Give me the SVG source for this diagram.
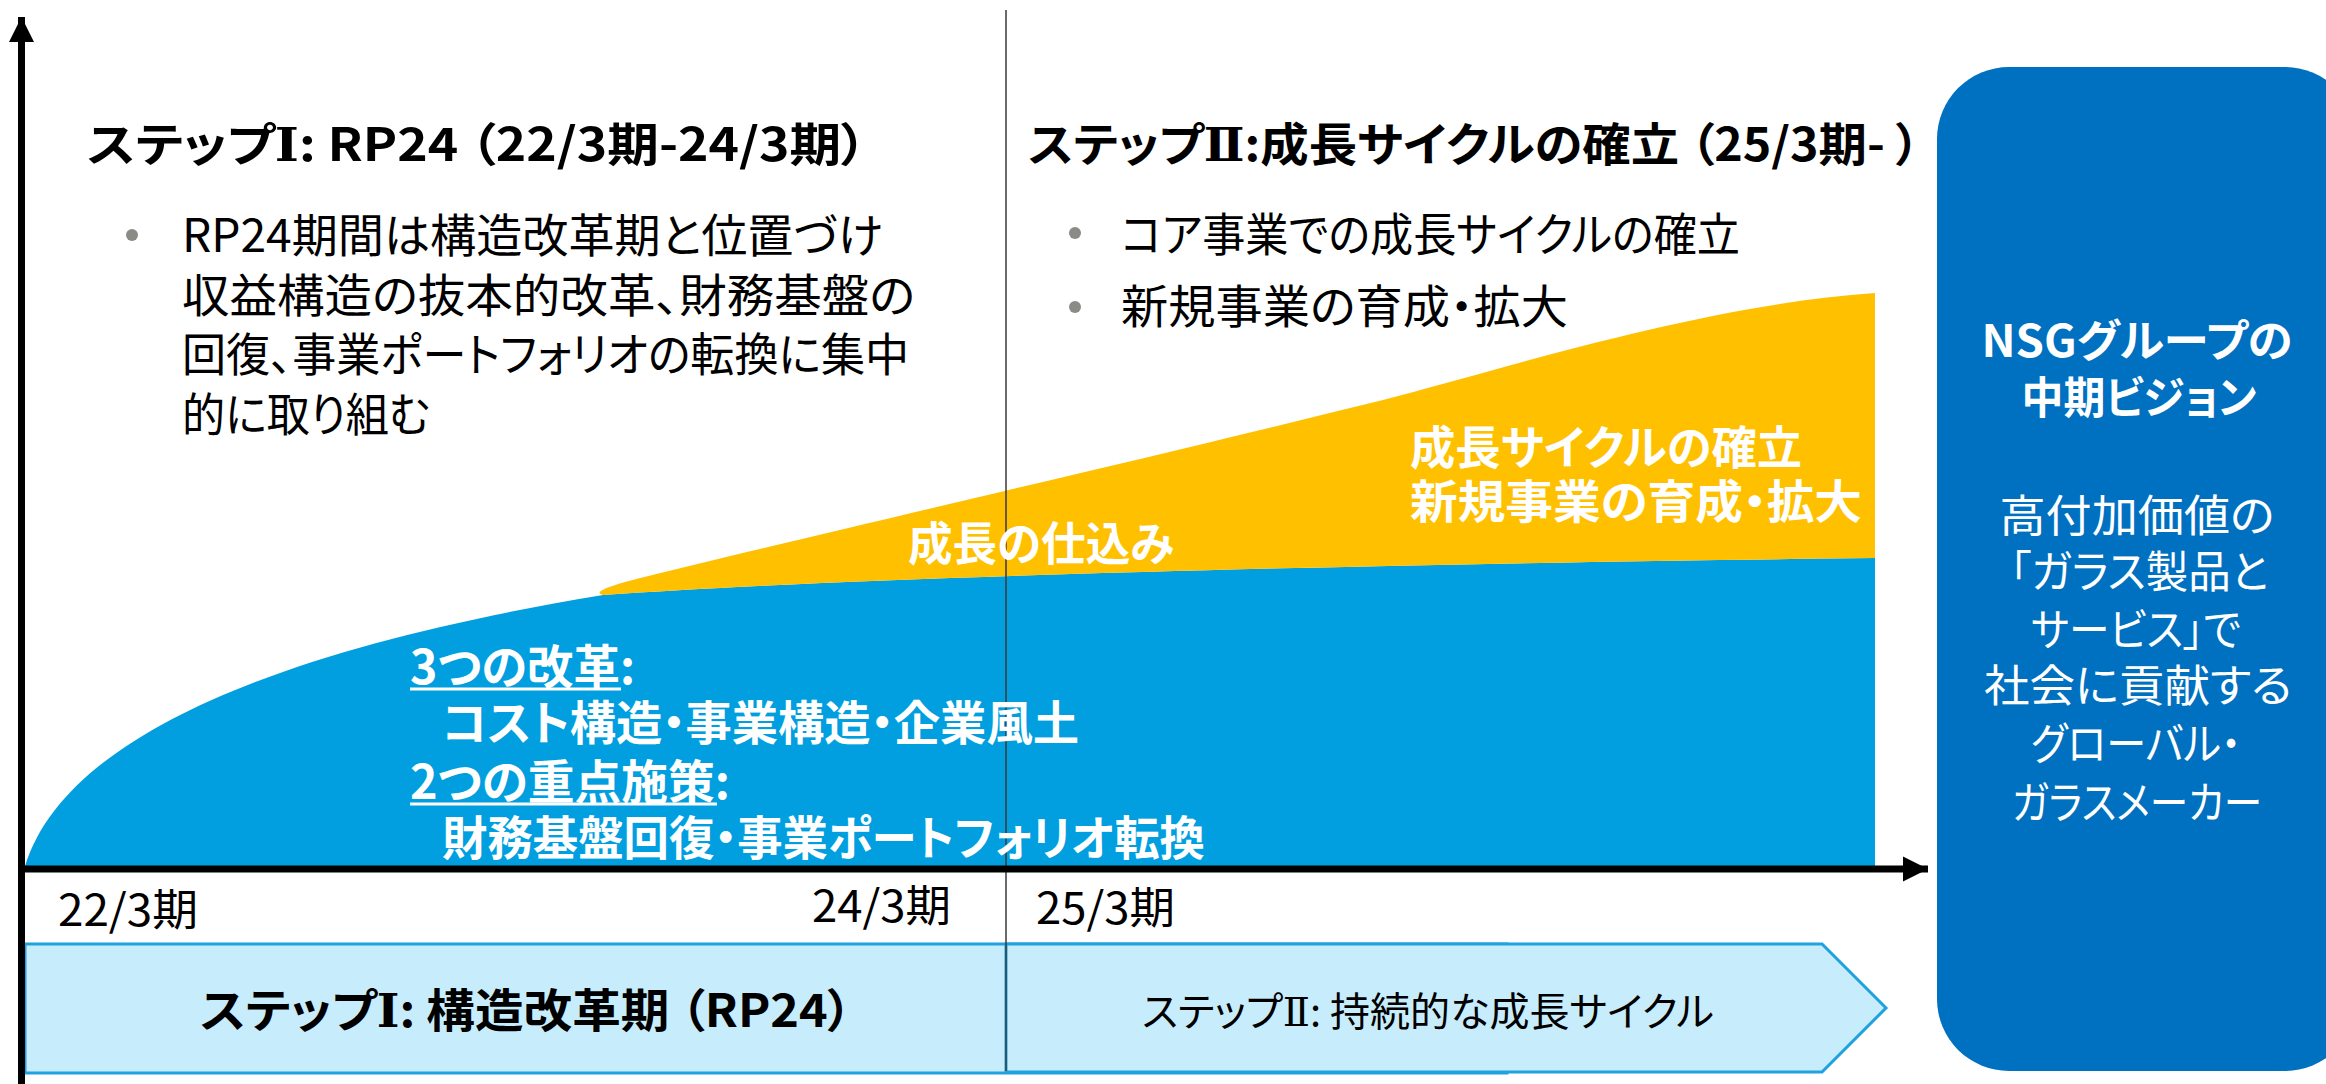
<svg xmlns="http://www.w3.org/2000/svg" width="2326" height="1084" viewBox="0 0 2326 1084">
<style>
text{font-family:"Noto Sans CJK JP","Noto Sans",sans-serif;font-feature-settings:"palt" 1;}
.rn{font-family:"DejaVu Serif","DejaVu Sans",serif;}
.b{font-weight:700;}
.r{font-weight:400;}
.blk{fill:#000;}
.wht{fill:#fff;}
.dot{fill:#8a8a86;}
.band{fill:#c7edfc;stroke:#1fa2de;stroke-width:3;}
</style>
<defs>
<marker id="ah" viewBox="0 0 10 10" refX="10" refY="5" markerWidth="3.6" markerHeight="3.6" orient="auto" markerUnits="strokeWidth">
<path d="M0,0 L10,5 L0,10 Z" fill="#000"/>
</marker>
</defs>
<rect width="2326" height="1084" fill="#fff"/>

<g id="chart-areas">
<path id="area-blue" d="M25,866 C70,720 330,640 603,595 C900,574 1500,562 1875,558 L1875,866 Z" fill="#019fdf"/>
<path id="area-yellow" d="M603,595 C900,574 1500,562 1875,558 L1875,293 C1700,305 1500,370 1383,400 C1100,470 800,538 625,582 Q590,592 603,595 Z" fill="#ffc000"/>
</g>

<g id="step-band">
<rect id="band-step1" class="band" x="25" y="944" width="1482" height="129"/>
<path id="band-step2" class="band" d="M1006,944 L1822,944 L1886,1008 L1822,1072 L1006,1072 Z"/>
</g>

<g id="vision-box">
<rect x="1937" y="67" width="420" height="1004" rx="72" ry="72" fill="#0070c0"/>
<text class="b wht" x="2137" y="357" font-size="44" text-anchor="middle" textLength="311" lengthAdjust="spacingAndGlyphs">NSGグループの</text>
<text class="b wht" x="2139" y="414" font-size="44" text-anchor="middle" textLength="235" lengthAdjust="spacingAndGlyphs">中期ビジョン</text>
<text class="r wht" x="2137" y="532" font-size="44" text-anchor="middle" textLength="275" lengthAdjust="spacingAndGlyphs">高付加価値の</text>
<text class="r wht" x="2139" y="588" font-size="44" text-anchor="middle" textLength="258" lengthAdjust="spacingAndGlyphs">「ガラス製品と</text>
<text class="r wht" x="2136" y="646" font-size="44" text-anchor="middle" textLength="210" lengthAdjust="spacingAndGlyphs">サービス」で</text>
<text class="r wht" x="2138" y="702" font-size="44" text-anchor="middle" textLength="308" lengthAdjust="spacingAndGlyphs">社会に貢献する</text>
<text class="r wht" x="2136" y="760" font-size="44" text-anchor="middle" textLength="210" lengthAdjust="spacingAndGlyphs">グローバル・</text>
<text class="r wht" x="2137" y="819" font-size="44" text-anchor="middle" textLength="250" lengthAdjust="spacingAndGlyphs">ガラスメーカー</text>
</g>

<g id="connectors">
<line id="divider" x1="1006" y1="10" x2="1006" y2="1071" stroke="#3a3a3a" stroke-width="1.5"/>
<line id="axis-y" x1="21.5" y1="1084" x2="21.5" y2="17" stroke="#000" stroke-width="7" marker-end="url(#ah)"/>
<line id="axis-x" x1="18" y1="869" x2="1928" y2="869" stroke="#000" stroke-width="7" marker-end="url(#ah)"/>
</g>

<g id="step1-header">
<text class="b blk" x="87" y="161" font-size="46" textLength="780" lengthAdjust="spacingAndGlyphs">ステップ<tspan class="rn">Ⅰ</tspan>: RP24 （22/3期-24/3期）</text>
<circle class="dot" cx="132" cy="235" r="6"/>
<text class="r blk" x="182" y="252" font-size="46" textLength="701" lengthAdjust="spacingAndGlyphs">RP24期間は構造改革期と位置づけ</text>
<text class="r blk" x="182" y="312" font-size="46" textLength="733" lengthAdjust="spacingAndGlyphs">収益構造の抜本的改革、財務基盤の</text>
<text class="r blk" x="182" y="371" font-size="46" textLength="727" lengthAdjust="spacingAndGlyphs">回復、事業ポートフォリオの転換に集中</text>
<text class="r blk" x="182" y="431" font-size="46" textLength="248" lengthAdjust="spacingAndGlyphs">的に取り組む</text>
</g>

<g id="step2-header">
<text class="b blk" x="1028" y="161" font-size="46" textLength="892" lengthAdjust="spacingAndGlyphs">ステップ<tspan class="rn">Ⅱ</tspan>:成長サイクルの確立 （25/3期- ）</text>
<circle class="dot" cx="1075" cy="233" r="6"/>
<text class="r blk" x="1121" y="251" font-size="46" textLength="619" lengthAdjust="spacingAndGlyphs">コア事業での成長サイクルの確立</text>
<circle class="dot" cx="1075" cy="307" r="6"/>
<text class="r blk" x="1121" y="323" font-size="46" textLength="447" lengthAdjust="spacingAndGlyphs">新規事業の育成・拡大</text>
</g>

<g id="growth-labels">
<text class="b wht" x="1410" y="464" font-size="46" textLength="392" lengthAdjust="spacingAndGlyphs">成長サイクルの確立</text>
<text class="b wht" x="1410" y="518" font-size="46" textLength="452" lengthAdjust="spacingAndGlyphs">新規事業の育成・拡大</text>
<text class="b wht" x="908" y="560" font-size="46" textLength="266" lengthAdjust="spacingAndGlyphs">成長の仕込み</text>
</g>

<g id="reform-labels">
<text class="b wht" x="410" y="684" font-size="47" textLength="225" lengthAdjust="spacingAndGlyphs">3つの改革:</text>
<line x1="410" y1="689" x2="621" y2="689" stroke="#fff" stroke-width="3"/>
<text class="b wht" x="442" y="740" font-size="47" textLength="637" lengthAdjust="spacingAndGlyphs">コスト構造・事業構造・企業風土</text>
<text class="b wht" x="410" y="799" font-size="47" textLength="320" lengthAdjust="spacingAndGlyphs">2つの重点施策:</text>
<line x1="410" y1="804" x2="717" y2="804" stroke="#fff" stroke-width="3"/>
<text class="b wht" x="442" y="855" font-size="47" textLength="763" lengthAdjust="spacingAndGlyphs">財務基盤回復・事業ポートフォリオ転換</text>
</g>

<g id="axis-labels">
<text class="r blk" x="58" y="926" font-size="44" textLength="140" lengthAdjust="spacingAndGlyphs">22/3期</text>
<text class="r blk" x="812" y="922" font-size="44" textLength="139" lengthAdjust="spacingAndGlyphs">24/3期</text>
<text class="r blk" x="1036" y="924" font-size="44" textLength="139" lengthAdjust="spacingAndGlyphs">25/3期</text>
</g>

<g id="band-labels">
<text class="b blk" x="200" y="1027" font-size="46" textLength="652" lengthAdjust="spacingAndGlyphs">ステップ<tspan class="rn">Ⅰ</tspan>: 構造改革期 （RP24）</text>
<text class="r blk" x="1142" y="1026" font-size="40" textLength="572" lengthAdjust="spacingAndGlyphs">ステップ<tspan class="rn">Ⅱ</tspan>: 持続的な成長サイクル</text>
</g>
</svg>
